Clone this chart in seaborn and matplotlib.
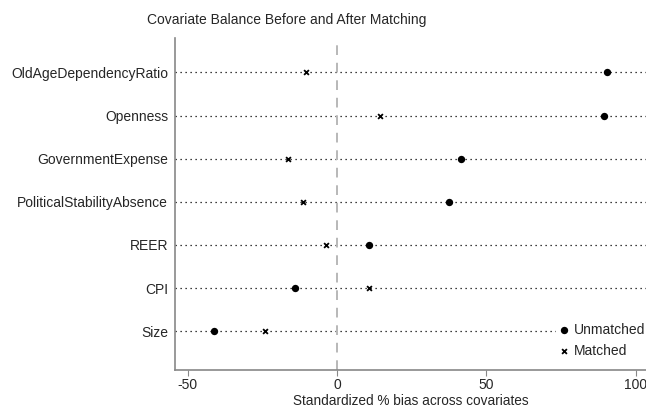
import matplotlib
matplotlib.use("Agg")
import matplotlib.pyplot as plt
import seaborn as sns
import pandas as pd

covariates = ["OldAgeDependencyRatio", "Openness", "GovernmentExpense",
              "PoliticalStabilityAbsence", "REER", "CPI", "Size"]
unmatched = [90.3, 89.6, 41.5, 37.5, 10.7, -14.0, -41.2]
matched = [-10.4, 14.4, -16.4, -11.4, -3.7, 10.7, -24.0]
x_ticks = [-50, 0, 50, 100]

df = pd.DataFrame({
    "Covariate": covariates * 2,
    "Bias": unmatched + matched,
    "Sample": ["Unmatched"] * len(covariates) + ["Matched"] * len(covariates),
})

sns.set_style("white")
plt.rcParams["font.family"] = ["Liberation Sans", "DejaVu Sans"]

W, H = 646, 408
fig = plt.figure(figsize=(W / 100, H / 100), dpi=100)
ax = fig.add_axes([175 / W, 1 - 370 / H, (W - 175) / W, (370 - 38) / H])

ypos = {c: len(covariates) - 1 - i for i, c in enumerate(covariates)}
df["y"] = df["Covariate"].map(ypos)

for c in covariates:
    ax.axhline(ypos[c], color="black", linestyle=(0, (1, 3)), linewidth=0.9, zorder=1)
ax.axvline(0, color="#b8b8b8", linestyle=(0, (5, 4)), linewidth=1.4, zorder=1)

sub_u = df[df["Sample"] == "Unmatched"]
sub_m = df[df["Sample"] == "Matched"]
sns.scatterplot(data=sub_u, x="Bias", y="y", ax=ax, color="black", marker="o",
                s=28, linewidth=0, zorder=3, label="Unmatched")
sns.scatterplot(data=sub_m, x="Bias", y="y", ax=ax, color="black", marker="x",
                s=12, linewidth=1.3, zorder=3, label="Matched")

ax.set_xlim(-54.2, 103.5)
ax.set_ylim(-0.9, 6.8)
ax.set_xticks(x_ticks)
ax.set_xticklabels([str(t) for t in x_ticks], fontsize=10)
ax.set_yticks([ypos[c] for c in covariates])
ax.set_yticklabels(covariates, fontsize=10)
ax.tick_params(axis="x", length=4, color="#888888", direction="out", bottom=True, pad=2)
ax.tick_params(axis="y", length=0, left=True, pad=5)
ax.set_xlabel("Standardized % bias across covariates", fontsize=9.8, labelpad=1)
ax.set_ylabel("")
fig.text(287 / W, 1 - 20 / H, "Covariate Balance Before and After Matching",
         fontsize=10, ha="center", va="center")

for side in ["top", "right"]:
    ax.spines[side].set_visible(False)
for side in ["left", "bottom"]:
    ax.spines[side].set_color("#888888")
    ax.spines[side].set_linewidth(1.2)

leg = ax.legend(loc="upper left", frameon=True, fontsize=10, handletextpad=0.22,
                borderaxespad=0, borderpad=0.05, labelspacing=0.5, handlelength=1.0,
                bbox_to_anchor=(556 / W, 1 - 322 / H), bbox_transform=fig.transFigure)
leg.get_frame().set_facecolor("white")
leg.get_frame().set_edgecolor("none")
leg.get_frame().set_alpha(1.0)
leg.get_frame().set_boxstyle("square", pad=0)
leg.set_zorder(5)

fig.savefig("out.png", dpi=100)
